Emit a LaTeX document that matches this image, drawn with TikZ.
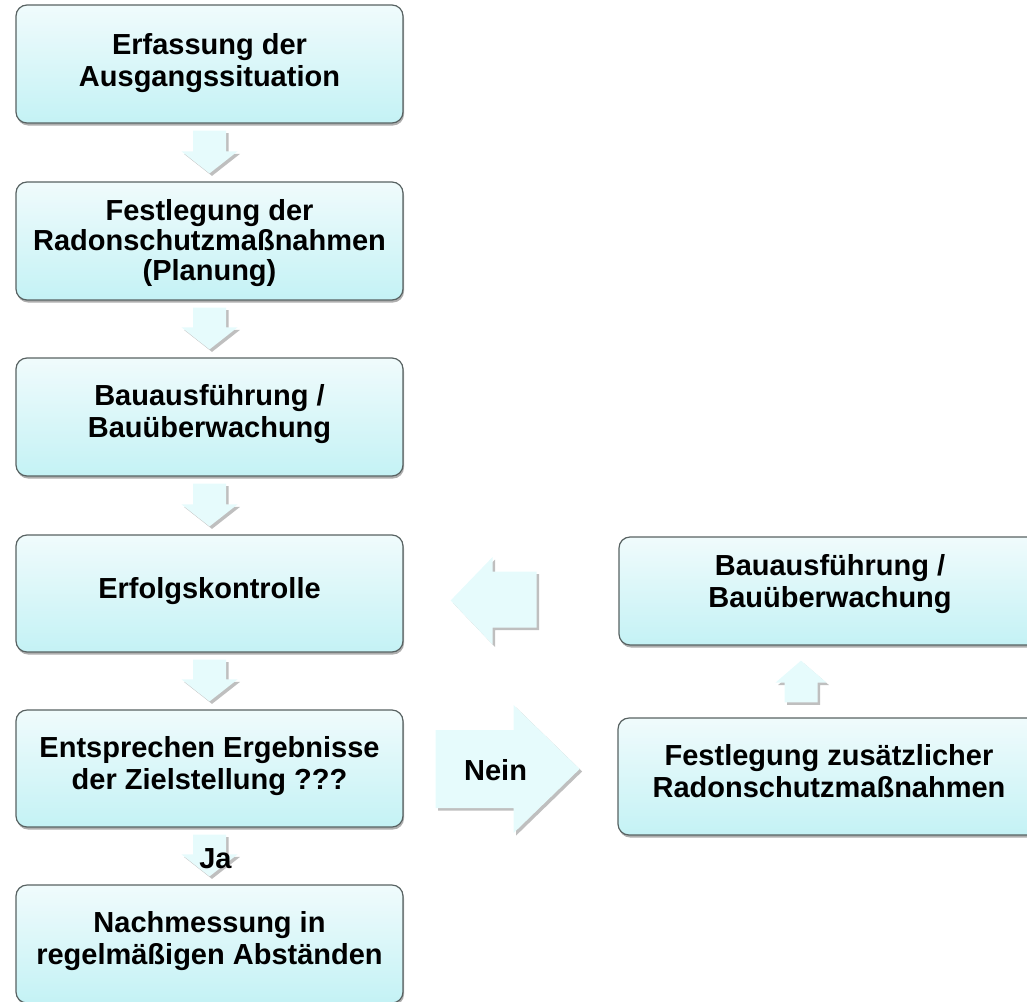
\documentclass[tikz,border=0pt]{standalone}
\usepackage{fontspec}
\setmainfont{Liberation Sans}
\usetikzlibrary{calc,shadows}
\definecolor{boxtop}{RGB}{240,251,252}
\definecolor{boxbot}{RGB}{196,242,245}
\definecolor{boxline}{RGB}{88,98,98}
\definecolor{arrfill}{RGB}{230,251,252}
\tikzset{
 stepbox/.style={draw=boxline, line width=1.2pt, rounded corners=11pt,
   top color=boxtop, bottom color=boxbot, align=center,
   font=\fontsize{29}{32}\selectfont\bfseries, inner sep=0pt, text depth=12pt,
   drop shadow={shadow xshift=1pt, shadow yshift=-2.5pt, opacity=0.45, fill=black!70}},
 leftbox/.style={stepbox, minimum width=387pt, minimum height=118pt},
 rightbox/.style={stepbox, minimum width=422pt},
 blockarr/.style={fill=arrfill, drop shadow={shadow xshift=2.5pt, shadow yshift=-2.5pt, opacity=0.25, fill=black}},
 lbl/.style={font=\fontsize{29}{32}\selectfont\bfseries, inner sep=0pt}
}
\newcommand\dnblock[2]{%
 \path[blockarr] ($(#1.south)+(-16.5,7)$) -- ($(#2.north)+(-16.5,-30)$)
   -- ($(#2.north)+(-28,-30)$) -- ($(#2.north)+(0,-8)$)
   -- ($(#2.north)+(28,-30)$) -- ($(#2.north)+(16.5,-30)$)
   -- ($(#1.south)+(16.5,7)$) -- cycle;}
\begin{document}
\begin{tikzpicture}[x=1pt,y=-1pt]
\useasboundingbox (0,0) rectangle (1027,1001);
\node[leftbox, text depth=9pt] (b1) at (209.5,64) {Erfassung der\\Ausgangssituation};
\node[leftbox, font=\fontsize{29}{30}\selectfont\bfseries, text depth=2pt] (b2) at (209.5,241) {Festlegung der\\Radonschutzmaßnahmen\\(Planung)};
\node[leftbox] (b3) at (209.5,417) {Bauausführung /\\Bauüberwachung};
\node[leftbox, minimum height=117pt] (b4) at (209.5,593.5) {Erfolgskontrolle};
\node[leftbox, minimum height=117pt] (b5) at (209.5,768.5) {Entsprechen Ergebnisse\\der Zielstellung ???};
\node[leftbox] (b6) at (209.5,944) {Nachmessung in\\regelmäßigen Abständen};
\node[rightbox, minimum height=108pt, text depth=20pt] (r1) at (830,591) {Bauausführung /\\Bauüberwachung};
\node[rightbox, minimum height=117pt] (r2) at (829,776.5) {Festlegung zusätzlicher\\Radonschutzmaßnahmen};
% down arrows
\dnblock{b1}{b2}
\dnblock{b2}{b3}
\dnblock{b3}{b4}
\dnblock{b4}{b5}
\dnblock{b5}{b6}
\node[lbl] (ja) at ($(b5.south)!0.5!(b6.north)+(6,3)$) {Ja};
% up arrow r2 -> r1
\coordinate (ua) at ($(r2.north)+(-28,0)$);
\path[blockarr] ($(ua)+(-16.5,-15)$) -- ($(ua |- r1.south)+(-16.5,37)$)
  -- ($(ua |- r1.south)+(-25.5,37)$) -- ($(ua |- r1.south)+(0,15)$)
  -- ($(ua |- r1.south)+(25.5,37)$) -- ($(ua |- r1.south)+(16.5,37)$)
  -- ($(ua)+(16.5,-15)$) -- cycle;
% left arrow r1 -> b4
\coordinate (lt) at ($(b4.east)+(47,7)$);
\path[blockarr] (lt) -- ($(lt)+(42,-43.5)$) -- ($(lt)+(42,-29)$) -- ($(lt)+(86,-29)$)
  -- ($(lt)+(86,27)$) -- ($(lt)+(42,27)$) -- ($(lt)+(42,44)$) -- cycle;
% Nein arrow b5 -> r2
\coordinate (nt) at ($(b5.east)+(32,0.5)$);
\path[blockarr] ($(nt)+(0,-39)$) -- ($(nt)+(78,-39)$) -- ($(nt)+(78,-64)$) -- ($(nt)+(144,0)$)
  -- ($(nt)+(78,64)$) -- ($(nt)+(78,39)$) -- ($(nt)+(0,39)$) -- cycle;
\node[lbl] (nein) at ($(nt)+(60,1)$) {Nein};
\end{tikzpicture}
\end{document}
